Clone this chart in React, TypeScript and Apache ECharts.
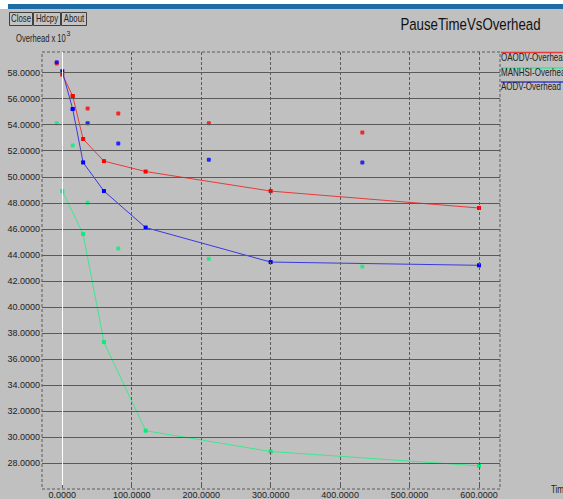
import React, { useEffect, useRef } from "react";
import * as echarts from "echarts";

const seriesNames = ["OAODV-Overhead", "MANHSI-Overhead", "AODV-Overhead"];
const markerColors = ["#ff0000", "#00f07a", "#0000ff"];
const lineColors = ["#e83a3a", "#3ee690", "#3a3ae0"];

// pause time (x) of the line points, per series
const oaodvLineX = [0, 15, 30, 60, 120, 300, 600];
const oaodvLineY = [57.85, 56.2, 52.9, 51.2, 50.4, 48.9, 47.6];
const manhsiLineX = [0, 30, 60, 120, 300, 600];
const manhsiLineY = [48.9, 45.6, 37.3, 30.5, 28.9, 27.8];
const aodvLineX = [0, 15, 30, 60, 120, 300, 600];
const aodvLineY = [58.1, 55.2, 51.1, 48.9, 46.1, 43.45, 43.2];

// scattered samples
const scatterX = [-8, 15, 36.5, 80.6, 211, 432];
const oaodvScatterY = [58.7, 56.2, 55.25, 54.85, 54.1, 53.4];
const manhsiScatterY = [54.1, 52.4, 48.0, 44.5, 43.7, 43.1];
const aodvScatterY = [58.8, 55.2, 54.1, 52.55, 51.3, 51.1];

const xTicks = [0, 100, 200, 300, 400, 500, 600];
const yTicks = [28, 30, 32, 34, 36, 38, 40, 42, 44, 46, 48, 50, 52, 54, 56, 58];

const FONT = "'Liberation Sans', Arial, sans-serif";
const NARROW = 0.8;

const zip = (xs: number[], ys: number[]) => xs.map((x, i) => [x, ys[i]]);

export default function App() {
  const ref = useRef<HTMLDivElement>(null);
  useEffect(() => {
    if (!ref.current) return;
    const chart = echarts.init(ref.current, null, { renderer: "svg" });
    const lines = [
      [oaodvLineX, oaodvLineY, oaodvScatterY],
      [manhsiLineX, manhsiLineY, manhsiScatterY],
      [aodvLineX, aodvLineY, aodvScatterY],
    ] as number[][][];
    const series: any[] = [
      {
        type: "line",
        data: [],
        z: 1,
        silent: true,
        markLine: {
          silent: true,
          symbol: "none",
          animation: false,
          label: { show: false },
          data: [
            ...yTicks.map((v) => ({ yAxis: v, lineStyle: { color: "#5a5a5a", width: 1, type: "solid" } })),
            ...xTicks
              .filter((v) => v !== 0)
              .map((v) => ({ xAxis: v, lineStyle: { color: "#5a5a5a", width: 1, type: [3, 2] } })),
            { xAxis: 0, lineStyle: { color: "#ffffff", width: 1, type: "solid" } },
          ],
        },
      },
    ];
    lines.forEach(([lx, ly, sy], i) => {
      series.push({
        name: seriesNames[i],
        type: "line",
        z: 2 + i,
        data: zip(lx, ly),
        symbol: "rect",
        symbolSize: 4,
        showSymbol: true,
        lineStyle: { color: lineColors[i], width: 1 },
        itemStyle: { color: markerColors[i] },
      });
      series.push({
        name: seriesNames[i],
        type: "scatter",
        z: 2 + i,
        data: zip(scatterX, sy),
        symbol: "roundRect",
        symbolSize: 4,
        itemStyle: { color: markerColors[i] },
      });
    });

    const legendY = [52.5, 68, 82];
    const legendTextY = [57.5, 72.5, 87];
    const txt = (text: string, x: number, y: number, size: number, align = "left", scale = NARROW, color = "#222") => ({
      type: "text",
      x,
      y,
      scaleX: scale,
      style: { text, fontSize: size, fontFamily: FONT, fill: color, align, verticalAlign: "middle" },
    });
    const graphic: any[] = [
      { type: "rect", shape: { x: 0, y: 0, width: 563, height: 4 }, style: { fill: "#ffffff" } },
      { type: "rect", shape: { x: 8, y: 4, width: 555, height: 5 }, style: { fill: "#1d6ca6" } },
      { type: "rect", shape: { x: 0, y: 4, width: 8, height: 5 }, style: { fill: "#ffffff" } },
      {
        type: "rect",
        z: 0,
        shape: { x: 42, y: 52, width: 458, height: 437 },
        style: { fill: null, stroke: "#5a5a5a", lineWidth: 1, lineDash: [3, 2] },
      },
    ];
    const buttons = [
      ["Close", 9, 23],
      ["Hdcpy", 33, 27],
      ["About", 61, 25],
    ] as [string, number, number][];
    buttons.forEach(([t, x, w]) => {
      graphic.push({
        type: "rect",
        shape: { x: x + 0.5, y: 12.5, width: w, height: 13 },
        style: { fill: "#c4c4c4", stroke: "#404040", lineWidth: 1 },
      });
      graphic.push(txt(t, x + w / 2 + 0.5, 19, 10, "center", 0.78));
    });
    graphic.push(txt("Overhead x 10", 16, 39, 10, "left", 0.76));
    graphic.push(txt("3", 66.5, 33.5, 8, "left", 0.85));
    graphic.push(txt("PauseTimeVsOverhead", 470.5, 24, 17, "center", 0.78, "#111"));
    seriesNames.forEach((n, i) => {
      graphic.push({
        type: "line",
        shape: { x1: 501, y1: legendY[i], x2: 563, y2: legendY[i] },
        style: { stroke: lineColors[i], lineWidth: 1.5 },
      });
      graphic.push(txt(n, 501, legendTextY[i], 10, "left", 0.8));
    });
    graphic.push(txt("Time", 551, 490, 10, "left", 0.8));

    chart.setOption({
      animation: false,
      backgroundColor: "#c0c0c0",
      grid: { left: 42, top: 52, right: 63, bottom: 10, containLabel: false },
      xAxis: {
        type: "value",
        min: -29.2,
        max: 630.2,
        axisLine: { show: false },
        splitLine: { show: false },
        axisTick: { show: true, customValues: xTicks, length: 3, lineStyle: { color: "#5a5a5a" } },
        axisLabel: {
          customValues: xTicks,
          formatter: (v: number) => v.toFixed(4),
          fontSize: 9,
          fontFamily: FONT,
          color: "#222",
          margin: 5,
        },
      },
      yAxis: {
        type: "value",
        min: 26.33,
        max: 59.58,
        axisLine: { show: false },
        splitLine: { show: false },
        axisTick: { show: true, customValues: yTicks, length: 2, lineStyle: { color: "#5a5a5a" } },
        axisLabel: {
          customValues: yTicks,
          formatter: (v: number) => v.toFixed(4),
          fontSize: 9,
          fontFamily: FONT,
          color: "#222",
          margin: 2,
        },
      },
      graphic,
      series,
    });
    return () => chart.dispose();
  }, []);
  return <div ref={ref} style={{ position: "absolute", left: 0, top: 0, width: 563, height: 499 }} />;
}
